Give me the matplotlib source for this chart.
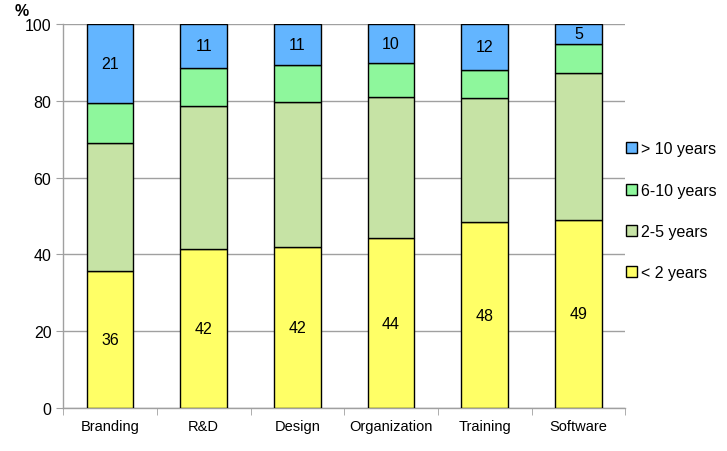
import numpy as np
import matplotlib.pyplot as plt

plt.rcParams['font.family'] = ['Liberation Sans', 'DejaVu Sans']

categories = ['Branding', 'R&D', 'Design', 'Organization', 'Training', 'Software']
lt2 = [35.7, 41.5, 42.0, 44.2, 48.4, 49.0]
y2_5 = [33.2, 37.2, 37.7, 36.8, 32.4, 38.3]
y6_10 = [10.4, 9.9, 9.5, 8.8, 7.2, 7.5]
gt10 = [20.7, 11.4, 10.8, 10.2, 12.0, 5.2]
lt2_labels = ['36', '42', '42', '44', '48', '49']
gt10_labels = ['21', '11', '11', '10', '12', '5']

series = [
    ('< 2 years', lt2, '#FFFF66'),
    ('2-5 years', y2_5, '#C6E3A5'),
    ('6-10 years', y6_10, '#8EF79C'),
    ('> 10 years', gt10, '#63B5FF'),
]

fig = plt.figure(figsize=(7.27, 4.52), dpi=100)
ax = fig.add_axes([0.087, 0.095, 0.773, 0.85])

x = np.arange(len(categories))
bottom = np.zeros(len(categories))
handles = []
for name, vals, col in series:
    vals = np.array(vals)
    b = ax.bar(x, vals, 0.5, bottom=bottom, color=col, edgecolor='black',
               linewidth=1.0, label=name, zorder=3)
    handles.append(b)
    if name == '< 2 years':
        for xi, v, bt, t in zip(x, vals, bottom, lt2_labels):
            ax.text(xi, bt + v / 2, t, ha='center', va='center', fontsize=11.5, zorder=4)
    if name == '> 10 years':
        for xi, v, bt, t in zip(x, vals, bottom, gt10_labels):
            ax.text(xi, bt + v / 2, t, ha='center', va='center', fontsize=11.5, zorder=4)
    bottom += vals

ax.set_xlim(-0.5, len(categories) - 0.5)
ax.set_ylim(0, 100)
ax.set_yticks([0, 20, 40, 60, 80, 100])
ax.yaxis.grid(True, color='#A0A0A0', linewidth=1.0, zorder=0)
ax.set_xticks(x)
ax.set_xticklabels(categories, fontsize=10.5)
ax.set_xticks(np.arange(-0.5, len(categories)), minor=True)
ax.tick_params(axis='x', which='major', length=0, pad=8)
ax.tick_params(axis='x', which='minor', length=5, color='#A0A0A0', direction='out')
ax.tick_params(axis='y', labelsize=11.5, length=5, color='#A0A0A0', direction='out')
for s in ['top', 'right']:
    ax.spines[s].set_visible(False)
for s in ['left', 'bottom']:
    ax.spines[s].set_color('#A0A0A0')
    ax.spines[s].set_linewidth(1.0)

fig.text(0.03, 0.975, '%', fontsize=11.5, fontweight='bold', ha='center', va='center')

leg = ax.legend(handles[::-1], [s[0] for s in series][::-1], loc='center left',
                bbox_to_anchor=(0.99, 0.513), frameon=False, fontsize=11.5,
                handlelength=0.7, handleheight=0.7, handletextpad=0.25,
                labelspacing=1.65, borderaxespad=0.0)

plt.savefig('out.png', dpi=100)
